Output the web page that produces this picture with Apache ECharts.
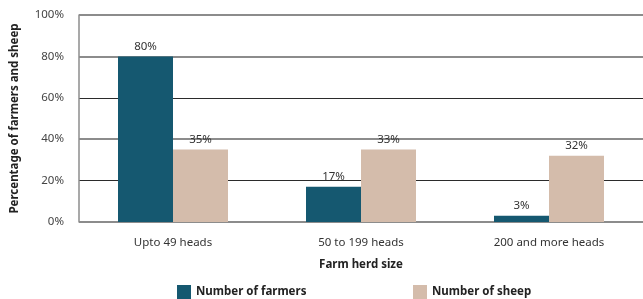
<!DOCTYPE html>
<html>
<head>
<meta charset="utf-8">
<script src="https://cdn.jsdelivr.net/npm/echarts@6/dist/echarts.min.js"></script>
<style>html,body{margin:0;padding:0;background:#fff;}#c{width:643px;height:299px;}</style>
</head>
<body>
<div id="c"></div>
<script>
const categories = ['Upto 49 heads', '50 to 199 heads', '200 and more heads'];
const farmers = [80, 17, 3];
const farmersLabels = ['80%', '17%', '3%'];
const sheep = [35, 35, 32];
const sheepLabels = ['35%', '33%', '32%'];
const yTicks = [0, 20, 40, 60, 80, 100];

const FONT = 'Noto Sans';
const chart = echarts.init(document.getElementById('c'), null, {renderer: 'canvas'});
chart.setOption({
  animation: false,
  textStyle: {fontFamily: FONT},
  grid: {left: 79, right: 0, top: 15, bottom: 77, containLabel: false, outerBoundsMode: 'none'},
  legend: [
    {data: ['Number of farmers'], left: 177, top: 285, itemWidth: 14, itemHeight: 14, icon: 'rect', itemGap: 0, padding: 0,
     textStyle: {fontFamily: FONT, fontWeight: 'bold', fontSize: 11.5, color: '#222'}},
    {data: ['Number of sheep'], left: 413, top: 285, itemWidth: 14, itemHeight: 14, icon: 'rect', itemGap: 0, padding: 0,
     textStyle: {fontFamily: FONT, fontWeight: 'bold', fontSize: 11.5, color: '#222'}}
  ],
  xAxis: {
    type: 'category', data: categories,
    name: 'Farm herd size', nameLocation: 'middle', nameGap: 37,
    nameTextStyle: {fontFamily: FONT, fontWeight: 'bold', fontSize: 11.5, color: '#222'},
    axisLine: {show: false}, axisTick: {show: false},
    axisLabel: {fontFamily: FONT, fontSize: 11.5, color: '#333', margin: 15}
  },
  yAxis: [{
    type: 'value', min: yTicks[0], max: yTicks[yTicks.length - 1], interval: 20,
    name: 'Percentage of farmers and sheep', nameLocation: 'middle', nameGap: 58, nameRotate: 90,
    nameTextStyle: {fontFamily: FONT, fontWeight: 'bold', fontSize: 11.5, color: '#222'},
    axisLine: {show: true, lineStyle: {color: '#8c8c8c', width: 1.5}},
    axisTick: {show: false},
    axisLabel: {fontFamily: FONT, fontSize: 11.5, color: '#444', margin: 15, formatter: '{value}%'},
    splitLine: {show: true, lineStyle: {color: '#2b2b2b', width: 1}}
  }, {
    type: 'value', min: 0, max: 100, interval: 40, position: 'left', offset: 0,
    axisLine: {show: false}, axisTick: {show: false}, axisLabel: {show: false},
    splitLine: {show: true, lineStyle: {color: '#8c8c8c', width: 2}}
  }],
  series: [
    {name: 'Number of farmers', type: 'bar', data: farmers, barWidth: 55, barGap: '0%',
     itemStyle: {color: '#155870'}, z: 3,
     label: {show: true, position: 'top', distance: 4, fontFamily: FONT, fontSize: 11.5, color: '#333',
       formatter: p => farmersLabels[p.dataIndex]}},
    {name: 'Number of sheep', type: 'bar', data: sheep, barWidth: 55, barGap: '0%',
     itemStyle: {color: '#d4bcab'}, z: 3,
     label: {show: true, position: 'top', distance: 4, fontFamily: FONT, fontSize: 11.5, color: '#333',
       formatter: p => sheepLabels[p.dataIndex]}}
  ]
});
</script>
</body>
</html>
